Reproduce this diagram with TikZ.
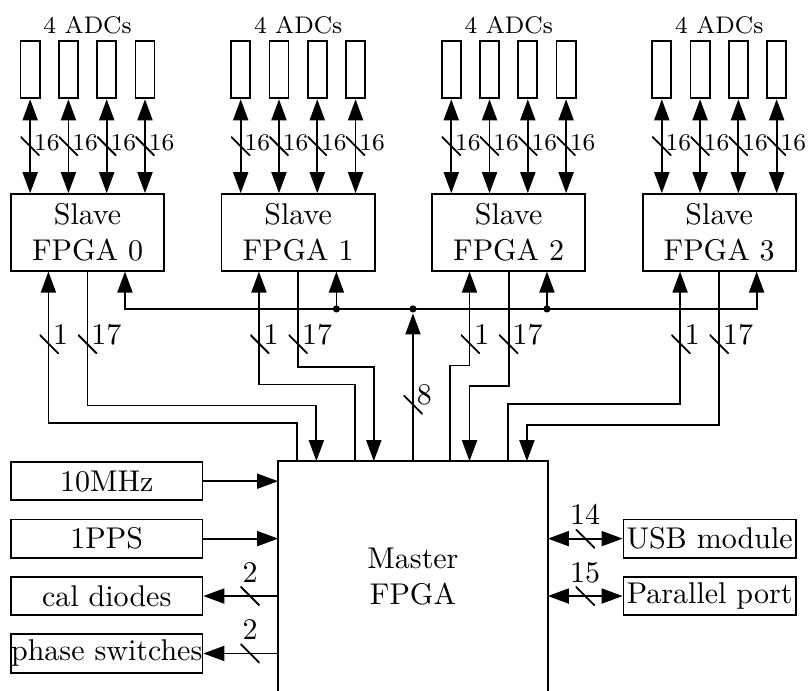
\documentclass[tikz,border=0pt]{standalone}
\usetikzlibrary{arrows.meta, positioning}

\begin{document}
\begin{tikzpicture}[
  x=0.2243cm, y=0.2243cm, line width=0.6pt,
  box/.style={draw, align=center, inner sep=0pt},
  slave/.style={box, minimum width=1.794cm, minimum height=0.897cm},
  adc/.style={box, minimum width=0.2243cm, minimum height=0.673cm},
  side/.style={box, minimum width=2.243cm, minimum height=0.449cm},
  port/.style={box, minimum width=2.019cm, minimum height=0.449cm},
  master/.style={align=center, minimum width=3.140cm, minimum height=2.692cm},
  tick/.style={minimum size=0.2243cm, inner sep=0pt, outer sep=0pt,
    path picture={\draw[-] (path picture bounding box.north west) -- (path picture bounding box.south east);}},
  dot/.style={circle, fill, inner sep=0pt, minimum size=2.4pt},
  num/.style={inner sep=0pt},
  small/.style={inner sep=0pt, font=\footnotesize},
  arrow/.style={-{Triangle[length=7pt, width=5pt]}},
  both/.style={{Triangle[length=7pt, width=5pt]}-{Triangle[length=7pt, width=5pt]}}
]
\useasboundingbox (-0.575,-11.96) rectangle (41.69,24.14);

\node[master] (master) at (21,-6) {Master\\FPGA};
\draw (master.south west) -- (master.north west) -- (master.north east) -- (master.south east);

\foreach \i in {0,...,3} {
  \node[slave] (slave\i) at (11*\i+4,12) {Slave\\FPGA \i};
  \node[small, anchor=base] (adcs\i) at (11*\i+4,22.37) {4 ADCs};
  \foreach \j in {0,...,3} {
    \node[adc] (adc\i\j) at (11*\i+2*\j+1,20.5) {};
    \draw[both] (adc\i\j) -- (adc\i\j |- slave\i.north) node[tick, midway] (t\i\j) {};
    \node[small, anchor=west] (n\i\j) at ([xshift=1pt, yshift=1pt]t\i\j.center) {16};
  }
}

\foreach \i/\a/\p/\b/\q in {0/1/2/2/3, 1/4/4/5/5, 2/9/5/10/4, 3/12/3/13/2} {
  \draw[arrow] ([xshift=\a*0.2243cm]master.north west) -- ++(0,\p) -| ([xshift=0.4486cm]slave\i.south west);
  \draw[arrow] (slave\i.south) -- ++(0,{\q-10}) -| ([xshift=\b*0.2243cm]master.north west);
  \node[tick] (ta\i) at (11*\i+2,6.15) {};
  \node[tick] (tb\i) at (11*\i+4,6.15) {};
  \node[num, anchor=base west] (na\i) at ([xshift=1pt]ta\i.center) {1};
  \node[num, anchor=base west] (nb\i) at ([xshift=1pt]tb\i.center) {17};
}

\node[dot] (bus) at (21,8) {};
\node[dot] (bus1) at (17,8) {};
\node[dot] (bus2) at (28,8) {};
\draw[arrow] (master.north) -- (bus);
\node[tick] (t8) at (21,3) {};
\node[num, anchor=base west] (n8) at ([xshift=1pt]t8.center) {8};
\draw[arrow] (bus.center) -| ([xshift=1.3458cm]slave0.south west);
\draw[arrow] (bus.center) -| ([xshift=1.3458cm]slave3.south west);
\draw[arrow] (bus1.center) -- (bus1 |- slave1.south);
\draw[arrow] (bus2.center) -- (bus2 |- slave2.south);

\node[side] (clk) at (5,-1) {10MHz};
\node[side] (pps) at (5,-4) {1PPS};
\node[side] (cal) at (5,-7) {cal diodes};
\node[side] (phase) at (5,-10) {phase switches};
\node[port] (usb) at (36.5,-4) {USB module};
\node[port] (par) at (36.5,-7) {Parallel port};

\draw[arrow] (clk) -- (clk -| master.west);
\draw[arrow] (pps) -- (pps -| master.west);
\draw[arrow] (cal -| master.west) -- (cal) node[tick, pos=.375] (tc) {};
\draw[arrow] (phase -| master.west) -- (phase) node[tick, pos=.375] (tp) {};
\draw[both] (usb -| master.east) -- (usb) node[tick, midway] (tu) {};
\draw[both] (par -| master.east) -- (par) node[tick, midway] (tq) {};
\node[num, anchor=base] (nc) at ([yshift=4.6pt]tc.center) {2};
\node[num, anchor=base] (np) at ([yshift=4.6pt]tp.center) {2};
\node[num, anchor=base] (nu) at ([yshift=4.6pt]tu.center) {14};
\node[num, anchor=base] (nq) at ([yshift=4.6pt]tq.center) {15};
\end{tikzpicture}
\end{document}
